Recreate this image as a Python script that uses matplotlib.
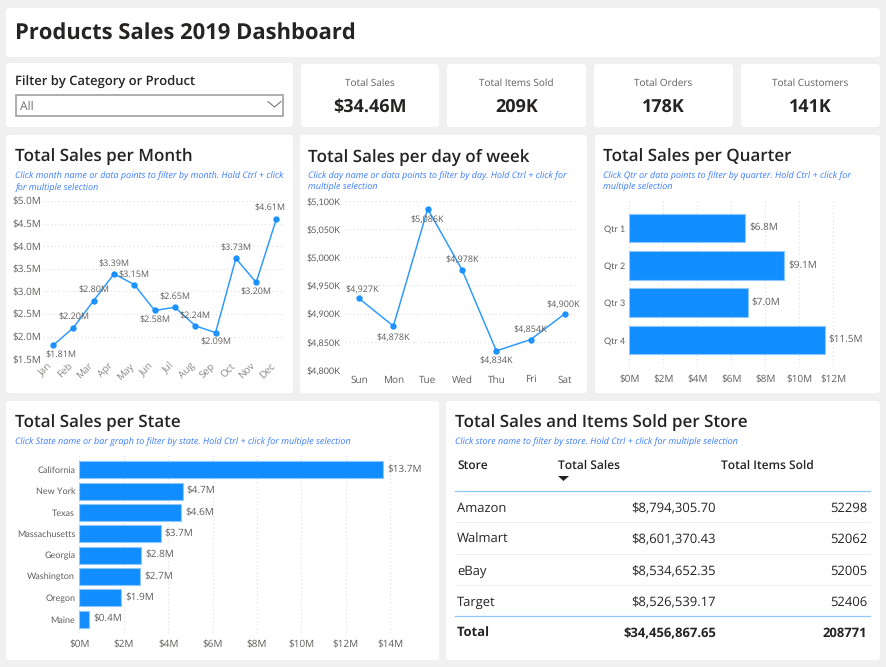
import matplotlib
matplotlib.use('Agg')
import matplotlib.pyplot as plt
from matplotlib.patches import FancyBboxPatch, Rectangle
from matplotlib.transforms import ScaledTranslation

# Data
months = ['Jan', 'Feb', 'Mar', 'Apr', 'May', 'Jun', 'Jul', 'Aug', 'Sep', 'Oct', 'Nov', 'Dec']
month_sales = [1.81, 2.20, 2.80, 3.39, 3.15, 2.58, 2.65, 2.24, 2.09, 3.73, 3.20, 4.61]
days = ['Sun', 'Mon', 'Tue', 'Wed', 'Thu', 'Fri', 'Sat']
day_sales = [4927, 4878, 5086, 4978, 4834, 4854, 4900]
quarters = ['Qtr 1', 'Qtr 2', 'Qtr 3', 'Qtr 4']
quarter_sales = [6.8, 9.1, 6.96, 11.5]
states = ['California', 'New York', 'Texas', 'Massachusetts', 'Georgia', 'Washington', 'Oregon', 'Maine']
state_sales = [13.69, 4.66, 4.58, 3.66, 2.8, 2.74, 1.88, 0.44]
stores = ['Amazon', 'Walmart', 'eBay', 'Target']
store_sales = ['$8,794,305.70', '$8,601,370.43', '$8,534,652.35', '$8,526,539.17']
store_items = ['52298', '52062', '52005', '52406']
kpi_names = ['Total Sales', 'Total Items Sold', 'Total Orders', 'Total Customers']
kpi_values = ['$34.46M', '209K', '178K', '141K']

W, H = 886, 667
FONT = 'Open Sans'
NARROW = 'Lato'
BLUE = '#118DFF'
EDGE = '#8CC8FF'
DARK = '#252423'
GRAY = '#605E5C'
LINK = '#3B7CFF'
GRID = '#E2E2E2'
TITLE = 16.6
NOTE = 9.2

plt.rcParams['font.family'] = [FONT, 'DejaVu Sans']
plt.rcParams['text.hinting'] = 'no_hinting'
plt.rcParams['text.hinting_factor'] = 1

fig = plt.figure(figsize=(W / 100, H / 100), dpi=100, facecolor='#F0F0F0')

# Page layer works in pixels, y going down, for panels and loose text
page = fig.add_axes([0, 0, 1, 1])
page.set_xlim(0, W)
page.set_ylim(H, 0)
page.axis('off')


def px(size):
    return size * 0.72


def panel(x0, y0, x1, y1):
    page.add_patch(FancyBboxPatch((x0 + 3, y0 + 3), x1 - x0 - 6, y1 - y0 - 6,
                                  boxstyle='round,pad=3,rounding_size=3',
                                  fc='white', ec='none'))


def label(x, y, s, size, color=DARK, weight='normal', ha='left', style='normal'):
    page.text(x, y + 1.5, s, fontsize=px(size), color=color, fontweight=weight, ha=ha,
              va='center', fontstyle=style)


def chart_axes(x0, y0, x1, y1):
    ax = fig.add_axes([x0 / W, 1 - y1 / H, (x1 - x0) / W, (y1 - y0) / H])
    ax.patch.set_alpha(0)
    for s in ax.spines.values():
        s.set_visible(False)
    ax.tick_params(length=0, labelsize=px(10), labelcolor=GRAY)
    return ax


def line_chart(ax, names, values):
    ax.plot(range(len(values)), values, color=BLUE, lw=1.05, alpha=0.9, marker='o',
            ms=3.6, clip_on=False, zorder=3)
    ax.set_xticks(range(len(values)))
    ax.set_xticklabels(names)
    ax.grid(axis='y', color=GRID, ls=(0, (1, 2)), lw=0.9)
    ax.set_axisbelow(True)


def bar_chart(ax, names, values, bar_h, value_size):
    pos = range(len(values))
    ax.barh(pos, values, height=bar_h, color=BLUE, edgecolor=EDGE, lw=0.8)
    ax.set_yticks(pos)
    ax.set_yticklabels(names, family=NARROW)
    ax.grid(axis='x', color=GRID, ls=(0, (1, 2)), lw=0.9)
    ax.set_axisbelow(True)
    ax.xaxis.set_major_formatter(lambda v, p: f'${v:.0f}M')
    for i, v in enumerate(values):
        ax.annotate(f'${v:.1f}M', (v, i), xytext=(px(4), 0), textcoords='offset points',
                    va='center', fontsize=px(value_size), color=GRAY)


# Panels
panel(6, 8, 880, 57)
panel(6, 63, 293, 127)
for x0, x1 in [(301, 439), (447, 586), (594, 733), (741, 880)]:
    panel(x0, 64, x1, 127)
panel(6, 135, 293, 393)
panel(300, 135, 587, 393)
panel(595, 135, 880, 393)
panel(6, 401, 439, 660)
panel(446, 401, 880, 660)

# Header
label(15, 32, 'Products Sales 2019 Dashboard', 21.7, weight='bold')
label(15, 81, 'Filter by Category or Product', 12.6, weight='semibold')
page.add_patch(Rectangle((16.5, 94.5), 267, 21, fc='white', ec='#A0A0A0', lw=1.2))
label(20, 105.5, 'All', 12, color='#707070')
page.plot([268, 274.5, 281], [101.5, 107, 101.5], color='#777777', lw=0.8)

for cx, name, value in zip([370, 516.5, 663.5, 810.5], kpi_names, kpi_values):
    label(cx, 82, name, 10.3, color=GRAY, ha='center')
    label(cx, 105.5, value, 18, weight='bold', ha='center')

# Total Sales per Month
label(15, 155.5, 'Total Sales per Month', TITLE, weight='semibold')
label(15, 174.5, 'Click month name or data points to filter by month. Hold Ctrl + click', NOTE, LINK, style='italic')
label(15, 186.5, 'for multiple selection', NOTE, LINK, style='italic')
ax = chart_axes(43, 201, 284, 359.3)
line_chart(ax, months, month_sales)
ax.set_xlim(-0.5, 11.37)
ax.set_ylim(1.5, 5.0)
ax.set_yticks([1.5, 2, 2.5, 3, 3.5, 4, 4.5, 5])
ax.yaxis.set_major_formatter(lambda v, p: f'${v:.1f}M')
ax.tick_params(axis='y', pad=1.5)
ax.tick_params(axis='x', pad=1, labelcolor='#8A8886')
shift = ScaledTranslation(-6 / 100, 0, fig.dpi_scale_trans)
for t in ax.get_xticklabels():
    t.set_rotation(45)
    t.set_ha('right')
    t.set_rotation_mode('anchor')
    t.set_transform(t.get_transform() + shift)
month_off = [(8, 10), (0, -10), (0, -10), (0, -10), (0, -10), (0, 10), (0, -10), (0, -10),
             (0, 10), (0, -10), (0, 10), (-7, -10)]
for i, v in enumerate(month_sales):
    ax.annotate(f'${v:.2f}M', (i, v), xytext=(px(month_off[i][0]), px(-month_off[i][1])),
                textcoords='offset points', ha='center', va='center',
                fontsize=px(9.2), color=GRAY, annotation_clip=False)

# Total Sales per day of week
label(308, 155.5, 'Total Sales per day of week', TITLE, weight='semibold')
label(308, 174.5, 'Click day name or data points to filter by day. Hold Ctrl + click for', NOTE, LINK, style='italic')
label(308, 186.5, 'multiple selection', NOTE, LINK, style='italic')
ax = chart_axes(345, 201, 578, 370)
line_chart(ax, days, day_sales)
ax.set_xlim(-0.41, 6.38)
ax.set_ylim(4800, 5100)
ax.set_yticks(range(4800, 5101, 50))
ax.yaxis.set_major_formatter(lambda v, p: f'${v:,.0f}K')
ax.tick_params(axis='y', pad=3, labelsize=px(9.4))
ax.tick_params(axis='x', pad=3.5, labelsize=px(10))
for t in ax.get_yticklabels():
    t.set_family(NARROW)
day_off = [(3, -9), (0, 11), (0, 11), (0, -10), (0, 10), (0, -10), (-2, -9)]
for i, v in enumerate(day_sales):
    ax.annotate(f'${v:,}K', (i, v), xytext=(px(day_off[i][0]), px(-day_off[i][1])),
                textcoords='offset points', ha='center', va='center',
                fontsize=px(9.5), color=GRAY, annotation_clip=False)

# Total Sales per Quarter
label(603, 155.5, 'Total Sales per Quarter', TITLE, weight='semibold')
label(603, 174.5, 'Click Qtr or data points to filter by quarter. Hold Ctrl + click for', NOTE, LINK, style='italic')
label(603, 186.5, 'multiple selection', NOTE, LINK, style='italic')
ax = chart_axes(629.3, 198, 850, 367)
bar_chart(ax, quarters, quarter_sales, 0.77, 10)
ax.set_xlim(0, 220.7 / 17)
ax.set_ylim(3.72, -0.804)
ax.set_xticks(range(0, 13, 2))
ax.tick_params(axis='y', pad=3, labelsize=px(9))
ax.tick_params(axis='x', pad=5.5)

# Total Sales per State
label(15, 421.5, 'Total Sales per State', TITLE, weight='semibold')
label(15, 440.5, 'Click State name or bar graph to filter by state. Hold Ctrl + click for multiple selection', NOTE, LINK, style='italic')
ax = chart_axes(79.3, 452.7, 425, 633)
bar_chart(ax, states, state_sales, 0.8, 9.6)
ax.set_xlim(0, 345.7 / 22.2)
ax.set_ylim(7.65, -0.8)
ax.set_xticks(range(0, 15, 2))
ax.tick_params(axis='y', pad=3, labelsize=px(9.2))
ax.tick_params(axis='x', pad=5)

# Store table
label(455, 421.5, 'Total Sales and Items Sold per Store', TITLE, weight='semibold')
label(455, 440.5, 'Click store name to filter by store. Hold Ctrl + click for multiple selection', NOTE, LINK, style='italic')
label(457, 464.5, 'Store', 12.4, weight='semibold')
label(558, 464.5, 'Total Sales', 12.4, weight='semibold')
label(721, 464.5, 'Total Items Sold', 12.4, weight='semibold')
page.fill([558, 569, 563.5], [476, 476, 481], color=DARK, lw=0)
page.plot([455, 870], [490.5, 490.5], color=EDGE, lw=0.9)
page.plot([455, 870], [616, 616], color=EDGE, lw=0.9)
row_y = [507, 538, 570, 601]
for y, store, sales, items in zip(row_y, stores, store_sales, store_items):
    label(457, y, store, 12.5, color=DARK)
    label(716, y, sales, 12.9, color=DARK, ha='right')
    label(867, y, items, 12.8, color=DARK, ha='right')
for y in [521.5, 553.5, 584.5]:
    page.plot([455, 870], [y, y], color='#F0F0F0', lw=0.7)
label(457, 632, 'Total', 13, weight='bold')
label(716, 632, '$34,456,867.65', 13, weight='bold', ha='right')
label(867, 632, '208771', 13, weight='bold', ha='right')

fig.savefig('out.png', dpi=100, facecolor=fig.get_facecolor())
